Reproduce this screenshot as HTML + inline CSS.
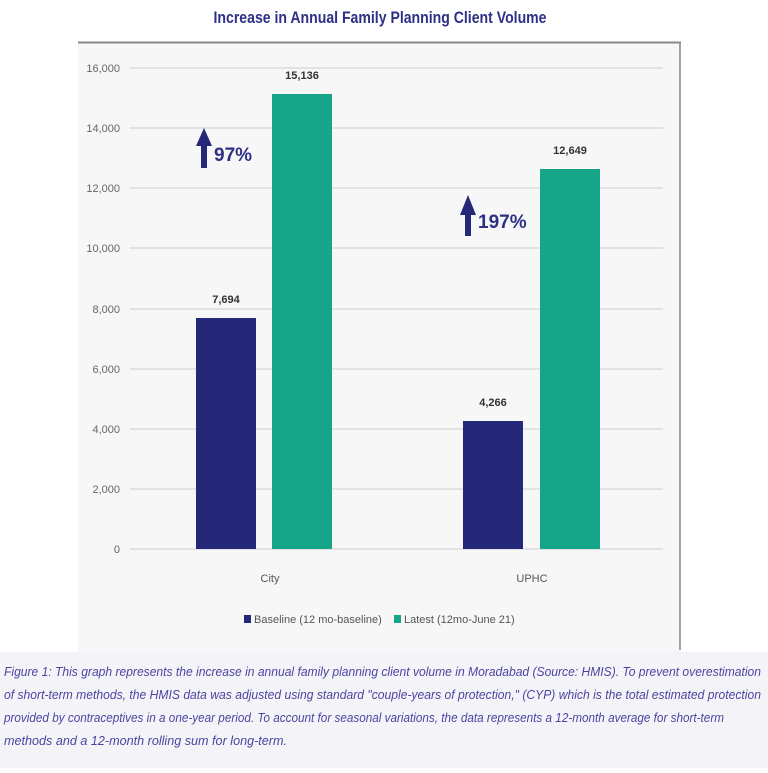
<!DOCTYPE html>
<html><head><style>
body{margin:0;background:#fff;width:768px;height:768px;overflow:hidden}
</style></head><body>
<svg width="768" height="768" viewBox="0 0 768 768" xmlns="http://www.w3.org/2000/svg" font-family="Liberation Sans, sans-serif">
<rect width="768" height="768" fill="#fff"/>
<text x="380" y="23" text-anchor="middle" font-size="17" font-weight="bold" fill="#2e2f86" textLength="333" lengthAdjust="spacingAndGlyphs">Increase in Annual Family Planning Client Volume</text>
<rect x="78" y="42" width="603" height="610" fill="#f7f7f7"/>
<line x1="78" y1="42.5" x2="681" y2="42.5" stroke="#888" stroke-width="2"/>
<line x1="680" y1="42" x2="680" y2="650" stroke="#888" stroke-width="1.5"/>
<g stroke="#dcdcdc" stroke-width="1.5">
<line x1="130" x2="663" y1="68" y2="68"/><line x1="130" x2="663" y1="128" y2="128"/>
<line x1="130" x2="663" y1="188" y2="188"/><line x1="130" x2="663" y1="248" y2="248"/>
<line x1="130" x2="663" y1="309" y2="309"/><line x1="130" x2="663" y1="369" y2="369"/>
<line x1="130" x2="663" y1="429" y2="429"/><line x1="130" x2="663" y1="489" y2="489"/>
<line x1="130" x2="663" y1="549" y2="549"/>
</g>
<g font-size="11" fill="#666" text-anchor="end">
<text x="120" y="72">16,000</text><text x="120" y="132">14,000</text><text x="120" y="192">12,000</text>
<text x="120" y="252">10,000</text><text x="120" y="313">8,000</text><text x="120" y="373">6,000</text>
<text x="120" y="433">4,000</text><text x="120" y="493">2,000</text><text x="120" y="553">0</text>
</g>
<rect x="196" y="318" width="60" height="231" fill="#252878"/>
<rect x="272" y="94" width="60" height="455" fill="#17a589"/>
<rect x="463" y="421" width="60" height="128" fill="#252878"/>
<rect x="540" y="169" width="60" height="380" fill="#17a589"/>
<g font-size="11" font-weight="bold" fill="#333" text-anchor="middle">
<text x="226" y="303">7,694</text><text x="302" y="79">15,136</text>
<text x="493" y="406">4,266</text><text x="570" y="154">12,649</text>
</g>
<path d="M204 128 L212 146 L207 146 L207 168 L201 168 L201 146 L196 146 Z" fill="#252878"/>
<text x="214" y="161" font-size="19" font-weight="bold" fill="#2e2f86">97%</text>
<path d="M468 195 L476 215 L471 215 L471 236 L465 236 L465 215 L460 215 Z" fill="#252878"/>
<text x="478" y="228" font-size="19" font-weight="bold" fill="#2e2f86">197%</text>
<g font-size="11" fill="#555" text-anchor="middle">
<text x="270" y="582">City</text><text x="532" y="582">UPHC</text>
</g>
<rect x="244" y="615" width="7" height="8" fill="#252878"/>
<text x="254" y="623" font-size="11" fill="#555">Baseline (12 mo-baseline)</text>
<rect x="394" y="615" width="7" height="8" fill="#17a589"/>
<text x="404" y="623" font-size="11" fill="#555">Latest (12mo-June 21)</text>
<rect x="0" y="652" width="768" height="116" fill="#f4f4f8"/>
<g font-size="13" font-style="italic" fill="#4a45a0">
<text x="4" y="676" textLength="757" lengthAdjust="spacingAndGlyphs">Figure 1: This graph represents the increase in annual family planning client volume in Moradabad (Source: HMIS). To prevent overestimation</text>
<text x="4" y="699" textLength="757" lengthAdjust="spacingAndGlyphs">of short-term methods, the HMIS data was adjusted using standard "couple-years of protection," (CYP) which is the total estimated protection</text>
<text x="4" y="722" textLength="720" lengthAdjust="spacingAndGlyphs">provided by contraceptives in a one-year period. To account for seasonal variations, the data represents a 12-month average for short-term</text>
<text x="4" y="745" textLength="283" lengthAdjust="spacingAndGlyphs">methods and a 12-month rolling sum for long-term.</text>
</g>
</svg>
</body></html>
